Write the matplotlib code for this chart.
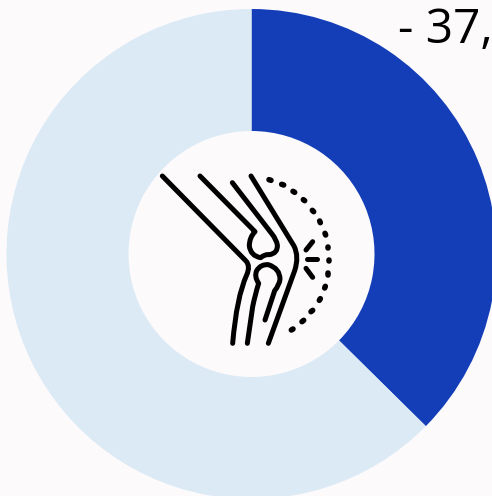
import matplotlib
matplotlib.use("Agg")
import matplotlib.pyplot as plt
from matplotlib.path import Path
from matplotlib.patches import PathPatch

# --- Chart data ---
shares = [37.4, 62.6]
colors = ['#143EB8', '#DCEAF6']
label = "- 37,"
bg = '#FCFAFB'

W, H = 492, 496
M, L, C3 = Path.MOVETO, Path.LINETO, Path.CURVE3

# --- Knee icon, in pixels of a 630x600 box (origin top left) ---
icon_box = (140, 160, 3.0)
icon_lines = [
    # upper leg, back edge, then calf
    [(M, 67, 48), (L, 318, 303), (C3, 332, 318), (L, 320, 345), (C3, 290, 410), (L, 278, 550)],
    # femur with its rounded end
    [(M, 180, 48), (L, 345, 215), (C3, 328, 232), (L, 328, 258), (C3, 332, 288), (L, 362, 293),
     (C3, 375, 282), (L, 388, 284), (C3, 414, 280), (L, 412, 255), (C3, 410, 240), (L, 396, 222),
     (L, 277, 68)],
    # front of the leg
    [(M, 333, 48), (L, 462, 258), (C3, 478, 290), (L, 464, 332), (L, 385, 550)],
    # shin bone
    [(M, 322, 550), (L, 338, 440), (C3, 345, 405), (L, 356, 370), (C3, 342, 350), (L, 350, 332),
     (C3, 362, 312), (L, 385, 314), (C3, 420, 325), (L, 420, 358), (C3, 418, 375), (L, 404, 392),
     (L, 375, 480)],
    # rays
    [(M, 498, 270), (L, 518, 245)],
    [(M, 501, 298), (L, 530, 298)],
    [(M, 498, 325), (L, 518, 352)],
]
# dotted arc, one short stroke per pair
icon_dots = [
    [(387, 59), (393, 61)], [(425, 73), (431, 75)], [(459, 94), (464, 97)],
    [(490, 119), (494, 122)], [(517, 151), (521, 155)], [(539, 183), (541, 188)],
    [(555, 220), (557, 225)], [(565, 260), (565, 265)], [(568, 300), (568, 304)],
    [(565, 340), (565, 345)], [(556, 379), (554, 384)], [(541, 416), (538, 421)],
    [(518, 451), (513, 455)], [(491, 481), (486, 485)], [(459, 507), (454, 510)],
]


def to_fig(x, y):
    x0, y0, s = icon_box
    return x0 + x / s, H - (y0 + y / s)


fig = plt.figure(figsize=(W / 100, H / 100), dpi=100, facecolor=bg)
ax = fig.add_axes([0, 0, 1, 1])
ax.set_facecolor(bg)

ax.pie(shares, colors=colors, startangle=90, counterclock=False,
       center=(251.5, H - 254), radius=245, frame=True,
       wedgeprops={'width': 122, 'linewidth': 0})
ax.set_xlim(0, W)
ax.set_ylim(0, H)
ax.set_aspect('equal')
ax.axis('off')

for seg in icon_lines:
    verts = [to_fig(x, y) for _, x, y in seg]
    codes = [c for c, _, _ in seg]
    ax.add_patch(PathPatch(Path(verts, codes), fill=False, edgecolor='black',
                           linewidth=3.6, capstyle='round', joinstyle='round'))
for (a, b) in icon_dots:
    ax.plot(*zip(to_fig(*a), to_fig(*b)), color='black', linewidth=4.0,
            solid_capstyle='round')

ax.text(398, H - 43, label, fontsize=34.5, family='Open Sans', color='black',
        ha='left', va='baseline')

fig.savefig('out.png', dpi=100, facecolor=bg)
